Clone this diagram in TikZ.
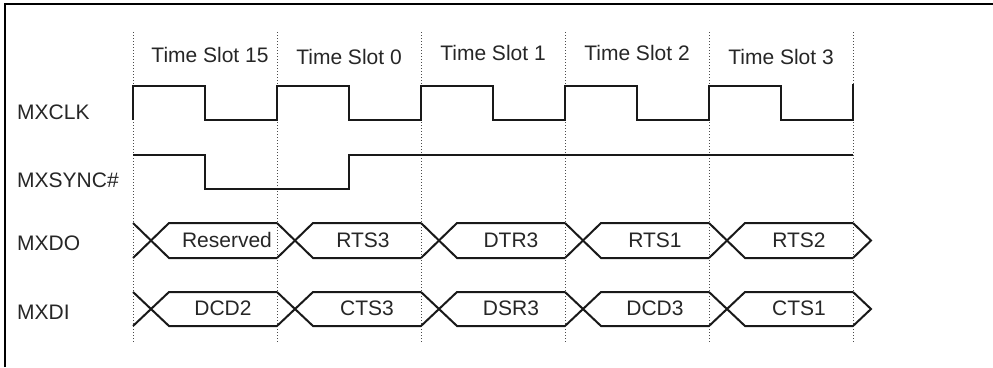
\documentclass[tikz,border=0pt]{standalone}
\usepackage{fontspec}
\setmainfont{Liberation Sans}

\begin{document}
\begin{tikzpicture}[
  x=1pt, y=-1pt,
  sig_label/.style={right, inner sep=0pt, text=black!85, font=\fontsize{21}{25}\selectfont},
  slot_label/.style={inner sep=0pt, text=black!85, font=\fontsize{21}{25}\selectfont},
  bus_label/.style={inner sep=0pt, text=black!85, font=\fontsize{21}{25}\selectfont},
  wave/.style={line width=2pt, line join=miter, black!90},
  slot_line/.style={dotted, line width=1pt, black!70},
]
\useasboundingbox (0,0) rectangle (993,367);
% frame
\draw[line width=2.2pt] (5,367) -- (5,4) -- (993,4);
% slot boundaries
\foreach \i in {0,...,5}
  \draw[slot_line] (133+144*\i,32) -- (133+144*\i,342);
\foreach \t/\dx/\yy [count=\i from 0] in {15/5/55, 0/0/57, 1/0/53, 2/0/53, 3/0/57}
  \node (slot\i) [slot_label] at (205+144*\i+\dx,\yy) {Time Slot \t};
% signal names
\node (clk) [sig_label] at (17,112) {MXCLK};
\node (sync) [sig_label] at (17,180) {MXSYNC\#};
\node (do) [sig_label] at (17,243) {MXDO};
\node (di) [sig_label] at (17,312) {MXDI};
% MXCLK
\draw[wave] (133,120) \foreach \i in {0,...,4} {
    -- (133+144*\i,86) -- (205+144*\i,86) -- (205+144*\i,120) -- (277+144*\i,120) }
  -- (853,84);
% MXSYNC#
\draw[wave] (133,155) -- (205,155) -- (205,189) -- (349,189) -- (349,155) -- (853,155);
% MXDO
\foreach \v/\dx [count=\i from 0] in {Reserved/4, RTS3/-4, DTR3/0, RTS1/0, RTS2/0} {
  \draw[wave] (133+144*\i,223) -- (169+144*\i,258) -- (277+144*\i,258);
  \draw[wave] (133+144*\i,258) -- (169+144*\i,223) -- (277+144*\i,223);
  \node (do\i) [bus_label] at (223+144*\i+\dx,240) {\v};
}
\draw[wave] (853,223) -- (871,240.5) -- (853,258);
% MXDI
\foreach \v [count=\i from 0] in {DCD2, CTS3, DSR3, DCD3, CTS1} {
  \draw[wave] (133+144*\i,292) -- (169+144*\i,326) -- (277+144*\i,326);
  \draw[wave] (133+144*\i,326) -- (169+144*\i,292) -- (277+144*\i,292);
  \node (di\i) [bus_label] at (223+144*\i,308) {\v};
}
\draw[wave] (853,292) -- (871,309) -- (853,326);
\end{tikzpicture}
\end{document}
